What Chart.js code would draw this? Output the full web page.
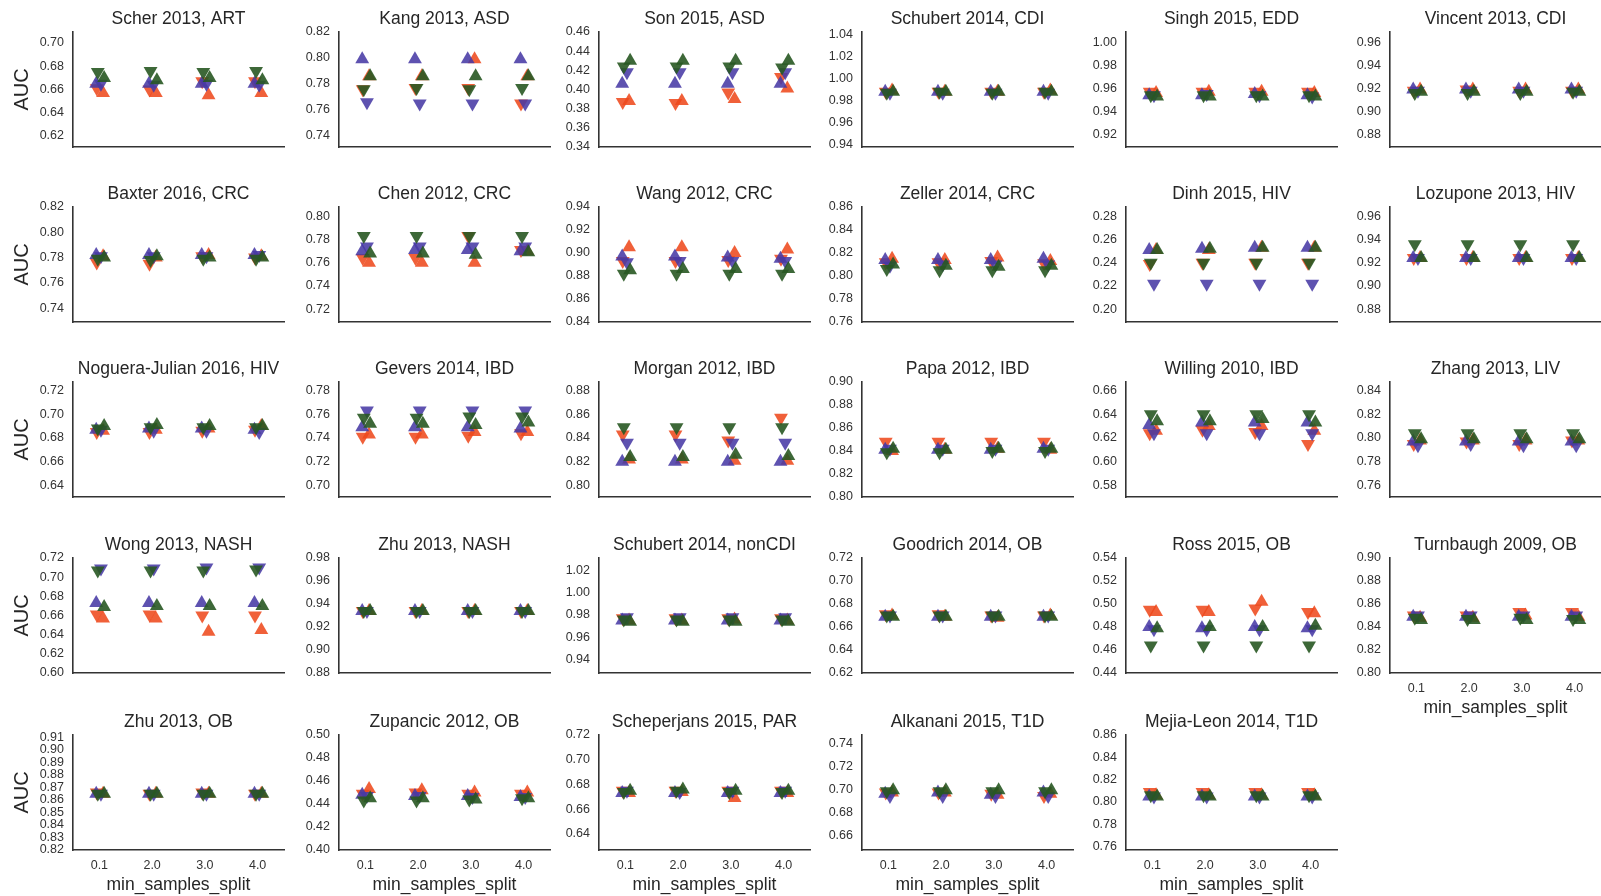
<!DOCTYPE html>
<html>
<head>
<meta charset="utf-8">
<script src="https://cdn.jsdelivr.net/npm/chart.js@4/dist/chart.umd.min.js"></script>
<style>
  html, body { margin: 0; padding: 0; background: #fff; }
  #wrap { position: relative; width: 1601px; height: 896px; overflow: hidden; background: #fff; }
  #wrap canvas { position: absolute; }
</style>
</head>
<body>
<div id="wrap"></div>
<script>
// Panel titles (study, disease), in reading order
const titles = [
  'Scher 2013, ART', 'Kang 2013, ASD', 'Son 2015, ASD', 'Schubert 2014, CDI', 'Singh 2015, EDD', 'Vincent 2013, CDI',
  'Baxter 2016, CRC', 'Chen 2012, CRC', 'Wang 2012, CRC', 'Zeller 2014, CRC', 'Dinh 2015, HIV', 'Lozupone 2013, HIV',
  'Noguera-Julian 2016, HIV', 'Gevers 2014, IBD', 'Morgan 2012, IBD', 'Papa 2012, IBD', 'Willing 2010, IBD', 'Zhang 2013, LIV',
  'Wong 2013, NASH', 'Zhu 2013, NASH', 'Schubert 2014, nonCDI', 'Goodrich 2014, OB', 'Ross 2015, OB', 'Turnbaugh 2009, OB',
  'Zhu 2013, OB', 'Zupancic 2012, OB', 'Scheperjans 2015, PAR', 'Alkanani 2015, T1D', 'Mejia-Leon 2014, T1D'
];

// min_samples_split values on the x axis
const xLabels = ['0.1', '2.0', '3.0', '4.0'];

// AUC tick labels per panel
const yTicks = [
  [0.62, 0.64, 0.66, 0.68, 0.70], [0.74, 0.76, 0.78, 0.80, 0.82], [0.34, 0.36, 0.38, 0.40, 0.42, 0.44, 0.46],
  [0.94, 0.96, 0.98, 1.00, 1.02, 1.04], [0.92, 0.94, 0.96, 0.98, 1.00], [0.88, 0.90, 0.92, 0.94, 0.96],
  [0.74, 0.76, 0.78, 0.80, 0.82], [0.72, 0.74, 0.76, 0.78, 0.80], [0.84, 0.86, 0.88, 0.90, 0.92, 0.94],
  [0.76, 0.78, 0.80, 0.82, 0.84, 0.86], [0.20, 0.22, 0.24, 0.26, 0.28], [0.88, 0.90, 0.92, 0.94, 0.96],
  [0.64, 0.66, 0.68, 0.70, 0.72], [0.70, 0.72, 0.74, 0.76, 0.78], [0.80, 0.82, 0.84, 0.86, 0.88],
  [0.80, 0.82, 0.84, 0.86, 0.88, 0.90], [0.58, 0.60, 0.62, 0.64, 0.66], [0.76, 0.78, 0.80, 0.82, 0.84],
  [0.60, 0.62, 0.64, 0.66, 0.68, 0.70, 0.72], [0.88, 0.90, 0.92, 0.94, 0.96, 0.98], [0.94, 0.96, 0.98, 1.00, 1.02],
  [0.62, 0.64, 0.66, 0.68, 0.70, 0.72], [0.44, 0.46, 0.48, 0.50, 0.52, 0.54], [0.80, 0.82, 0.84, 0.86, 0.88, 0.90],
  [0.82, 0.83, 0.84, 0.85, 0.86, 0.87, 0.88, 0.89, 0.90, 0.91], [0.40, 0.42, 0.44, 0.46, 0.48, 0.50],
  [0.64, 0.66, 0.68, 0.70, 0.72], [0.66, 0.68, 0.70, 0.72, 0.74], [0.76, 0.78, 0.80, 0.82, 0.84, 0.86]
];

// y axis limits per panel
const yMin = [0.6105, 0.7315, 0.34, 0.938, 0.909, 0.869,
              0.729, 0.709, 0.84, 0.76, 0.189, 0.869,
              0.6305, 0.6905, 0.7905, 0.80, 0.5705, 0.7505,
              0.60, 0.88, 0.928, 0.62, 0.44, 0.80,
              0.82, 0.40, 0.627, 0.647, 0.757];
const yMax = [0.7095, 0.82, 0.46, 1.042, 1.009, 0.969,
              0.82, 0.808, 0.94, 0.86, 0.288, 0.968,
              0.727, 0.787, 0.887, 0.90, 0.667, 0.847,
              0.72, 0.98, 1.031, 0.72, 0.54, 0.90,
              0.912, 0.50, 0.72, 0.747, 0.86];

// AUC values: one row per panel, one value per min_samples_split
const redUp = [
  [0.657, 0.657, 0.655, 0.657], [0.786, 0.786, 0.799, 0.786], [0.388, 0.388, 0.390, 0.401], [0.989, 0.988, 0.988, 0.989], [0.956, 0.957, 0.957, 0.956], [0.919, 0.919, 0.919, 0.919],
  [0.781, 0.780, 0.782, 0.781], [0.760, 0.760, 0.760, 0.770], [0.905, 0.905, 0.900, 0.903], [0.815, 0.814, 0.816, 0.813], [0.251, 0.251, 0.253, 0.253], [0.924, 0.924, 0.924, 0.924],
  [0.686, 0.687, 0.688, 0.690], [0.743, 0.743, 0.745, 0.745], [0.822, 0.822, 0.821, 0.821], [0.840, 0.841, 0.842, 0.841], [0.626, 0.630, 0.630, 0.626], [0.798, 0.798, 0.798, 0.798],
  [0.657, 0.657, 0.643, 0.645], [0.934, 0.934, 0.934, 0.934], [0.975, 0.975, 0.976, 0.975], [0.670, 0.669, 0.668, 0.670], [0.493, 0.493, 0.502, 0.492], [0.848, 0.848, 0.850, 0.849],
  [0.865, 0.865, 0.865, 0.865], [0.453, 0.452, 0.450, 0.450], [0.673, 0.674, 0.669, 0.673], [0.697, 0.697, 0.695, 0.696], [0.806, 0.806, 0.806, 0.806]
];
const redDown = [
  [0.661, 0.660, 0.667, 0.667], [0.776, 0.777, 0.777, 0.765], [0.387, 0.386, 0.397, 0.413], [0.988, 0.988, 0.988, 0.988], [0.957, 0.957, 0.957, 0.957], [0.918, 0.919, 0.918, 0.918],
  [0.776, 0.775, 0.781, 0.780], [0.764, 0.764, 0.783, 0.771], [0.893, 0.893, 0.894, 0.895], [0.812, 0.812, 0.813, 0.811], [0.239, 0.240, 0.240, 0.240], [0.924, 0.924, 0.924, 0.924],
  [0.685, 0.685, 0.686, 0.687], [0.741, 0.741, 0.742, 0.744], [0.843, 0.843, 0.838, 0.857], [0.848, 0.848, 0.848, 0.848], [0.624, 0.627, 0.625, 0.615], [0.795, 0.797, 0.795, 0.798],
  [0.661, 0.661, 0.660, 0.660], [0.934, 0.934, 0.934, 0.934], [0.977, 0.977, 0.977, 0.977], [0.671, 0.671, 0.670, 0.670], [0.495, 0.495, 0.496, 0.493], [0.850, 0.850, 0.853, 0.853],
  [0.866, 0.865, 0.866, 0.865], [0.449, 0.450, 0.449, 0.449], [0.675, 0.675, 0.675, 0.675], [0.697, 0.697, 0.696, 0.694], [0.809, 0.809, 0.809, 0.809]
];
const blueUp = [
  [0.665, 0.665, 0.665, 0.665], [0.799, 0.799, 0.799, 0.799], [0.406, 0.406, 0.406, 0.406], [0.988, 0.988, 0.988, 0.988], [0.954, 0.954, 0.955, 0.954], [0.919, 0.919, 0.919, 0.919],
  [0.782, 0.782, 0.782, 0.782], [0.770, 0.771, 0.771, 0.770], [0.897, 0.897, 0.896, 0.895], [0.814, 0.814, 0.814, 0.815], [0.251, 0.252, 0.253, 0.253], [0.924, 0.924, 0.924, 0.924],
  [0.687, 0.688, 0.688, 0.687], [0.749, 0.749, 0.749, 0.748], [0.820, 0.820, 0.820, 0.820], [0.841, 0.841, 0.841, 0.842], [0.631, 0.633, 0.633, 0.633], [0.797, 0.797, 0.797, 0.797],
  [0.673, 0.673, 0.673, 0.673], [0.934, 0.934, 0.934, 0.934], [0.975, 0.975, 0.975, 0.975], [0.669, 0.669, 0.669, 0.669], [0.480, 0.479, 0.480, 0.479], [0.849, 0.849, 0.849, 0.849],
  [0.865, 0.865, 0.865, 0.865], [0.448, 0.447, 0.447, 0.446], [0.673, 0.673, 0.673, 0.673], [0.696, 0.697, 0.695, 0.697], [0.805, 0.805, 0.805, 0.805]
];
const blueDown = [
  [0.665, 0.664, 0.665, 0.664], [0.766, 0.765, 0.765, 0.765], [0.418, 0.418, 0.418, 0.418], [0.987, 0.987, 0.987, 0.987], [0.954, 0.955, 0.954, 0.953], [0.918, 0.918, 0.918, 0.918],
  [0.781, 0.781, 0.781, 0.782], [0.774, 0.774, 0.774, 0.774], [0.892, 0.893, 0.893, 0.893], [0.809, 0.810, 0.810, 0.810], [0.222, 0.222, 0.222, 0.222], [0.924, 0.924, 0.924, 0.924],
  [0.687, 0.686, 0.686, 0.685], [0.763, 0.763, 0.763, 0.763], [0.836, 0.836, 0.836, 0.836], [0.842, 0.842, 0.842, 0.842], [0.624, 0.624, 0.624, 0.624], [0.794, 0.795, 0.794, 0.794],
  [0.709, 0.709, 0.710, 0.710], [0.934, 0.934, 0.934, 0.934], [0.978, 0.978, 0.978, 0.978], [0.670, 0.670, 0.670, 0.670], [0.478, 0.478, 0.478, 0.478], [0.850, 0.850, 0.850, 0.850],
  [0.865, 0.865, 0.865, 0.865], [0.447, 0.447, 0.446, 0.446], [0.675, 0.674, 0.675, 0.675], [0.694, 0.694, 0.694, 0.694], [0.805, 0.805, 0.805, 0.805]
];
const greenUp = [
  [0.670, 0.668, 0.670, 0.668], [0.786, 0.786, 0.786, 0.786], [0.430, 0.430, 0.430, 0.430], [0.988, 0.988, 0.988, 0.988], [0.953, 0.953, 0.953, 0.953], [0.917, 0.917, 0.917, 0.917],
  [0.780, 0.781, 0.780, 0.780], [0.768, 0.768, 0.767, 0.769], [0.885, 0.886, 0.886, 0.886], [0.810, 0.809, 0.808, 0.809], [0.251, 0.252, 0.253, 0.253], [0.924, 0.924, 0.924, 0.924],
  [0.690, 0.691, 0.690, 0.690], [0.752, 0.752, 0.751, 0.753], [0.824, 0.824, 0.826, 0.825], [0.842, 0.841, 0.842, 0.842], [0.634, 0.634, 0.636, 0.633], [0.799, 0.799, 0.799, 0.799],
  [0.669, 0.670, 0.670, 0.670], [0.934, 0.934, 0.934, 0.934], [0.974, 0.974, 0.974, 0.974], [0.669, 0.669, 0.669, 0.669], [0.479, 0.480, 0.480, 0.481], [0.846, 0.846, 0.846, 0.846],
  [0.865, 0.865, 0.865, 0.865], [0.445, 0.445, 0.444, 0.445], [0.675, 0.676, 0.675, 0.675], [0.699, 0.699, 0.699, 0.699], [0.805, 0.805, 0.805, 0.805]
];
const greenDown = [
  [0.675, 0.676, 0.675, 0.676], [0.776, 0.777, 0.776, 0.777], [0.424, 0.424, 0.424, 0.423], [0.987, 0.988, 0.987, 0.988], [0.954, 0.954, 0.954, 0.954], [0.916, 0.916, 0.916, 0.917],
  [0.779, 0.778, 0.779, 0.779], [0.783, 0.783, 0.783, 0.783], [0.882, 0.882, 0.882, 0.882], [0.806, 0.805, 0.805, 0.805], [0.240, 0.240, 0.240, 0.240], [0.936, 0.936, 0.936, 0.936],
  [0.688, 0.689, 0.689, 0.689], [0.757, 0.757, 0.758, 0.758], [0.849, 0.849, 0.849, 0.849], [0.839, 0.839, 0.840, 0.840], [0.640, 0.640, 0.640, 0.640], [0.804, 0.804, 0.804, 0.804],
  [0.707, 0.707, 0.707, 0.708], [0.934, 0.934, 0.934, 0.934], [0.976, 0.976, 0.976, 0.976], [0.670, 0.670, 0.670, 0.670], [0.464, 0.464, 0.464, 0.464], [0.848, 0.847, 0.848, 0.847],
  [0.865, 0.865, 0.865, 0.865], [0.443, 0.443, 0.444, 0.445], [0.674, 0.675, 0.674, 0.674], [0.698, 0.698, 0.698, 0.698], [0.806, 0.806, 0.806, 0.806]
];

// ---- layout & styling ----
const FONT = "'Liberation Sans', Arial, Helvetica, sans-serif";
const colAxisX = [73, 339, 599, 862, 1126, 1390];
const rowAxisBottom = [147, 322, 497, 673, 850];
const PLOT_W = 213, PLOT_H = 115;
const PAD_L = 72, PAD_T = 45, PAD_R = 6, AXIS_B = 48;

const RED = 'rgba(238, 74, 30, 0.88)';
const BLUE = 'rgba(72, 58, 165, 0.88)';
const GREEN = 'rgba(40, 88, 34, 0.9)';

// series: data source, colour, triangle direction, small horizontal spread, stacking order
const series = [
  { data: redUp,     color: RED,   rot: 0,   dx: 0.07,  order: 3 },
  { data: redDown,   color: RED,   rot: 180, dx: -0.05, order: 3 },
  { data: blueUp,    color: BLUE,  rot: 0,   dx: -0.06, order: 2 },
  { data: blueDown,  color: BLUE,  rot: 180, dx: 0.03,  order: 2 },
  { data: greenUp,   color: GREEN, rot: 0,   dx: 0.09,  order: 1 },
  { data: greenDown, color: GREEN, rot: 180, dx: -0.03, order: 1 }
];

const panelText = {
  id: 'panelText',
  afterDraw(chart, args, opts) {
    const { ctx, chartArea } = chart;
    ctx.save();
    ctx.fillStyle = '#262626';
    ctx.textAlign = 'center';
    ctx.textBaseline = 'middle';
    ctx.font = '17.5px ' + FONT;
    ctx.fillText(opts.title, (chartArea.left + chartArea.right) / 2, chartArea.top - 13);
    if (opts.xTitle) {
      ctx.font = '17.5px ' + FONT;
      ctx.fillText('min_samples_split', (chartArea.left + chartArea.right) / 2, chartArea.bottom + 35);
    }
    if (opts.yTitle) {
      ctx.translate(chartArea.left - 51, (chartArea.top + chartArea.bottom) / 2);
      ctx.rotate(-Math.PI / 2);
      ctx.font = '20px ' + FONT;
      ctx.fillText('AUC', 0, 0);
    }
    ctx.restore();
  }
};

const wrap = document.getElementById('wrap');

titles.forEach((title, i) => {
  const row = Math.floor(i / 6), col = i % 6;
  const showX = row === 4 || i === 23;
  const canvas = document.createElement('canvas');
  const cw = PAD_L + PLOT_W + PAD_R, ch = PAD_T + PLOT_H + AXIS_B;
  canvas.width = cw; canvas.height = ch;
  canvas.style.width = cw + 'px'; canvas.style.height = ch + 'px';
  canvas.style.left = (colAxisX[col] - PAD_L) + 'px';
  canvas.style.top = (rowAxisBottom[row] - PLOT_H - PAD_T) + 'px';
  wrap.appendChild(canvas);

  const datasets = series.map(s => ({
    data: s.data[i].map((v, k) => ({ x: k + s.dx, y: v })),
    pointStyle: 'triangle',
    rotation: s.rot,
    pointRadius: 8,
    pointBorderWidth: 0,
    backgroundColor: s.color,
    borderColor: 'rgba(0,0,0,0)',
    order: s.order
  }));

  new Chart(canvas, {
    type: 'scatter',
    data: { datasets },
    options: {
      responsive: false,
      animation: false,
      events: [],
      layout: { padding: { left: 0, top: PAD_T, right: PAD_R, bottom: 0 } },
      plugins: {
        legend: { display: false },
        tooltip: { enabled: false },
        panelText: { title, xTitle: showX, yTitle: col === 0 }
      },
      scales: {
        x: {
          type: 'linear',
          min: -0.5, max: 3.5,
          afterFit: s => { s.height = AXIS_B; },
          afterBuildTicks: s => { s.ticks = xLabels.map((_, k) => ({ value: k })); },
          grid: { display: false, drawTicks: false },
          border: { display: true, color: '#333', width: 1.6 },
          ticks: {
            display: showX,
            padding: 8,
            maxRotation: 0,
            autoSkip: false,
            color: '#333',
            font: { family: FONT, size: 12.5 },
            callback: v => xLabels[v]
          }
        },
        y: {
          type: 'linear',
          min: yMin[i], max: yMax[i],
          afterFit: s => { s.width = PAD_L; },
          afterBuildTicks: s => { s.ticks = yTicks[i].map(v => ({ value: v })); },
          grid: { display: false, drawTicks: false },
          border: { display: true, color: '#333', width: 1.6 },
          ticks: {
            padding: 9,
            autoSkip: false,
            color: '#333',
            font: { family: FONT, size: 12.5 },
            callback: v => v.toFixed(2)
          }
        }
      }
    },
    plugins: [panelText]
  });
});
</script>
</body>
</html>
